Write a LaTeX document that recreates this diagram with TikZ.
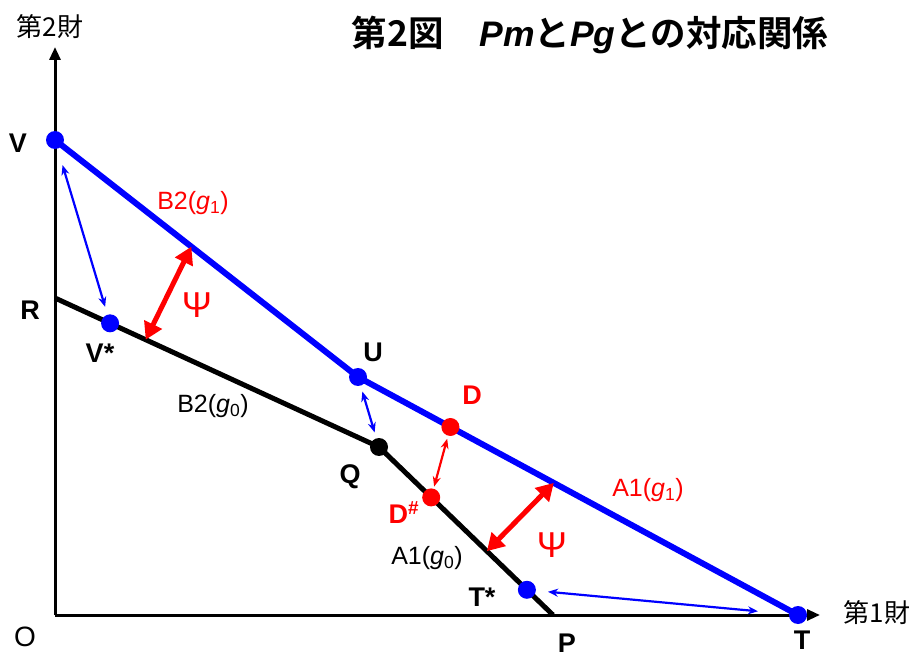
\documentclass[tikz,border=0pt]{standalone}
\usepackage{fontspec}
\setmainfont{Liberation Sans}
\newfontfamily\jpfont{Noto Sans CJK JP}[BoldFont={Noto Sans CJK JP Bold}]
\usetikzlibrary{calc,arrows.meta}
\definecolor{LineBlue}{HTML}{0000FF}
\definecolor{MarkRed}{HTML}{FF0000}

\begin{document}
\begin{tikzpicture}[x=1pt,y=1pt,>=stealth]
  \tikzstyle{dot}=[circle,inner sep=0pt,minimum size=18pt]
  \tikzstyle{ptlabel}=[font=\fontsize{27}{27}\selectfont\bfseries]
  \tikzstyle{linelabel}=[font=\fontsize{25}{25}\selectfont]
  \tikzstyle{axislabel}=[font=\jpfont\fontsize{26}{26}\selectfont]
  \tikzstyle{moveArr}=[<->,line width=2.2pt,color=LineBlue,
    >={Stealth[length=10pt,width=8pt]}]
  \tikzstyle{psiarrow}=[line width=5pt,color=MarkRed,
    {Triangle[length=17pt,width=19pt]}-{Triangle[length=17pt,width=19pt]}]
  \useasboundingbox (-55,-42) rectangle (859,615);
  % axes
  \coordinate (O) at (0,0);
  \coordinate (xend) at (765,0);
  \coordinate (yend) at (0,568);
  \draw[line width=3pt,-{Triangle[length=13pt,width=11pt]}] (O) -- (xend);
  \draw[line width=3pt,-{Triangle[length=13pt,width=11pt]}] (O) -- (yend);
  % corner points
  \coordinate (V) at (0,475);
  \coordinate (U) at (303,238);
  \coordinate (T) at (743,0);
  \coordinate (R) at (0,317);
  \coordinate (Q) at (324,168);
  \coordinate (P) at (498,0);
  \coordinate (D) at ($(U)!0.21!(T)$);
  \coordinate (Vs) at ($(R)!0.17!(Q)$);
  \coordinate (Dh) at ($(Q)!0.30!(P)$);
  \coordinate (Ts) at ($(Q)!0.85!(P)$);
  % budget lines
  \draw[line width=6pt,color=LineBlue,line join=round] (V) -- (U) -- (T);
  \draw[line width=5pt,line join=round] (R) -- (Q) -- (P);
  % dots
  \node[dot,fill=LineBlue] (Vdot) at (V) {};
  \node[dot,fill=LineBlue] (Udot) at (U) {};
  \node[dot,fill=LineBlue] (Tdot) at (T) {};
  \node[dot,fill=LineBlue] (Vsdot) at (Vs) {};
  \node[dot,fill=LineBlue] (Tsdot) at (Ts) {};
  \node[dot,fill=black] (Qdot) at (Q) {};
  \node[dot,fill=MarkRed] (Ddot) at (D) {};
  \node[dot,fill=MarkRed] (Dhdot) at (Dh) {};
  % shifts between the lines
  \draw[moveArr,shorten <=17pt,shorten >=8pt] (Vdot) -- (Vsdot);
  \draw[moveArr,shorten <=6pt,shorten >=6pt] (Udot) -- (Qdot);
  \draw[moveArr,color=MarkRed,shorten <=3pt,shorten >=2pt] (Ddot) -- (Dhdot);
  \draw[moveArr,shorten <=12pt,shorten >=31pt] (Tsdot) -- (Tdot);
  \coordinate (psiA1) at ($(R)!0.28!(Q)$);
  \coordinate (psiB1) at ($(V)!0.45!(U)$);
  \coordinate (psiA2) at ($(Q)!0.62!(P)$);
  \coordinate (psiB2) at ($(U)!0.445!(T)$);
  \draw[psiarrow] (psiA1) -- (psiB1);
  \draw[psiarrow] (psiA2) -- (psiB2);
  % labels
  \node[axislabel] (ylab) at (-5,588) {第2財};
  \node[axislabel] (xlab) at (822,2) {第1財};
  \node[font=\fontsize{28}{28}\selectfont] (Olab) at (-30,-22) {O};
  \node[ptlabel] (Vlab) at (-37,472) {V};
  \node[ptlabel] (Rlab) at (-25,305) {R};
  \node[ptlabel] (Vslab) at (45,262) {V*};
  \node[ptlabel] (Ulab) at (318,263) {U};
  \node[ptlabel,MarkRed] (Dlab) at (417,220) {D};
  \node[ptlabel] (Qlab) at (295,138) {Q};
  \node[ptlabel,MarkRed] (Dhlab) at (349,102) {D\textsuperscript{\#}};
  \node[ptlabel] (Tslab) at (427,18) {T*};
  \node[ptlabel,inner sep=0pt] (Plab) at (512,-28) {P};
  \node[ptlabel] (Tlab) at (747,-25) {T};
  \node[linelabel,MarkRed] (B2one) at (138,412) {B2(\textit{g}\textsubscript{1})};
  \node[linelabel] (B2zero) at (158,209) {B2(\textit{g}\textsubscript{0})};
  \node[linelabel] (A1zero) at (372,57) {A1(\textit{g}\textsubscript{0})};
  \node[linelabel,MarkRed] (A1one) at (593,125) {A1(\textit{g}\textsubscript{1})};
  \node[font=\fontsize{36}{36}\selectfont,MarkRed] (psi1) at (142,310) {Ψ};
  \node[font=\fontsize{36}{36}\selectfont,MarkRed] (psi2) at (497,70) {Ψ};
  \node[font=\jpfont\bfseries\fontsize{35.5}{35.5}\selectfont] (title) at (535,580)
    {第2図　{\rmfamily\itshape Pm}と{\rmfamily\itshape Pg}との対応関係};
\end{tikzpicture}
\end{document}
